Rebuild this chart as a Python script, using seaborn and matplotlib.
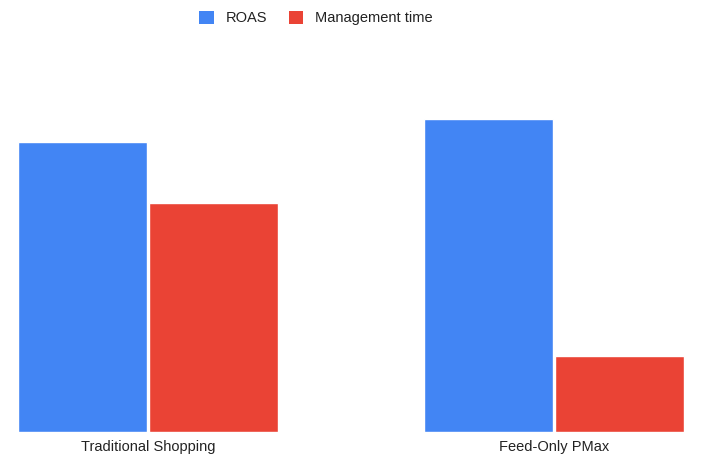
import pandas as pd
import matplotlib.pyplot as plt
import seaborn as sns
from matplotlib.patches import Patch

# Chart values
categories = ['Traditional Shopping', 'Feed-Only PMax']
series_names = ['ROAS', 'Management time']
roas = [3.8, 4.1]
management_time = [3.0, 1.0]
colors = ['#4285F4', '#EA4335']

df = pd.DataFrame({
    'category': categories * 2,
    'series': [series_names[0]] * 2 + [series_names[1]] * 2,
    'value': roas + management_time,
})

sns.set_theme(style='white')
plt.rcParams['font.family'] = ['Liberation Sans', 'DejaVu Sans']

fig = plt.figure(figsize=(7.03, 4.63), dpi=100)
ax = fig.add_axes([0, 31 / 463, 1, 382 / 463])

sns.barplot(data=df, x='category', y='value', hue='series', palette=colors,
            width=0.645, gap=0.01, saturation=1, ax=ax, legend=False)

# x range so the groups sit where they do in the reference
ax.set_xlim(-148 / 406, 1 + 149 / 406)
ax.set_ylim(0, 5)
ax.set_xlabel('')
ax.set_ylabel('')
ax.set_yticks([])
ax.tick_params(axis='x', length=0, labelsize=10.5, labelcolor='#222222', pad=6)
for s in ax.spines.values():
    s.set_visible(False)

# Legend at the top
handles = [Patch(facecolor=c, edgecolor='none') for c in colors]
fig.legend(handles, series_names, loc='center', bbox_to_anchor=(316 / 703, 1 - 18 / 463),
           ncol=2, frameon=False, fontsize=10.5, labelcolor='#222222',
           handlelength=1.0, handleheight=1.0, handletextpad=0.8, columnspacing=1.5)

fig.savefig('out.png', dpi=100)
